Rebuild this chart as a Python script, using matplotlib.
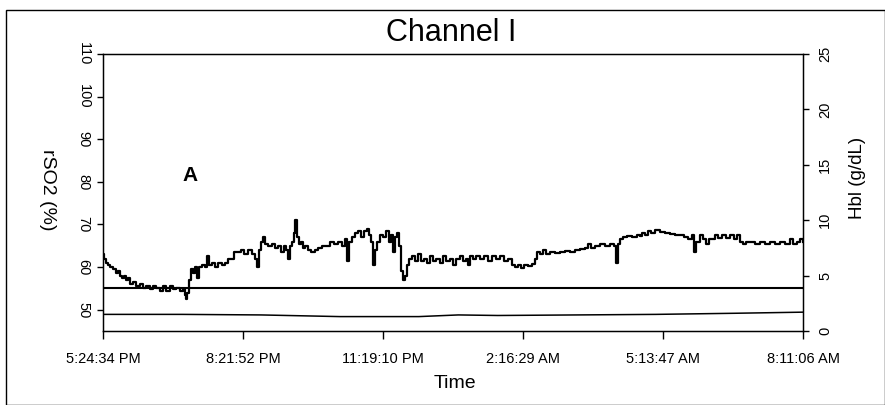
import matplotlib
matplotlib.use("Agg")
import matplotlib.pyplot as plt
from matplotlib.patches import Rectangle

plt.rcParams['font.family'] = ['Liberation Sans', 'DejaVu Sans']

# ---- data -------------------------------------------------------------
# minutes elapsed since 5:24:34 PM
rso2_minutes = [0, 1, 4, 6, 9, 13, 16, 19, 22, 24, 27, 29, 32, 34, 38, 42, 47, 51, 54, 60,
                63, 67, 72, 76, 80, 85, 89, 92, 98, 101, 104, 105, 106, 109, 111, 114, 117, 119, 122, 125,
                129, 132, 134, 138, 142, 146, 151, 155, 158, 163, 166, 171, 175, 179, 184, 189, 193, 195, 198, 200,
                203, 205, 209, 214, 218, 222, 225, 229, 232, 234, 237, 239, 242, 243, 246, 248, 251, 253, 256, 260,
                263, 268, 272, 277, 282, 287, 293, 298, 303, 306, 309, 312, 315, 319, 323, 327, 331, 334, 337, 339,
                342, 344, 347, 351, 355, 358, 362, 365, 367, 370, 372, 375, 377, 380, 382, 385, 388, 391, 395, 399,
                403, 407, 410, 414, 418, 422, 427, 431, 434, 439, 443, 447, 452, 456, 460, 462, 465, 469, 472, 477,
                483, 488, 493, 498, 503, 508, 513, 518, 522, 526, 529, 533, 538, 543, 547, 550, 553, 557, 561, 566,
                572, 579, 585, 591, 598, 604, 610, 614, 618, 623, 629, 636, 642, 647, 650, 652, 655, 659, 664, 670,
                676, 680, 683, 686, 690, 694, 699, 705, 712, 718, 724, 731, 736, 741, 746, 748, 751, 756, 760, 764,
                767, 771, 775, 779, 784, 789, 794, 799, 803, 807, 811, 814, 819, 826, 832, 838, 845, 851, 857, 864,
                870, 874, 879, 883, 886]
rso2_values = [63, 62, 61, 60.5, 60, 59.5, 58.5, 59, 58, 57.5, 58, 57, 57.5, 56, 56.5, 55.5, 56, 55, 55.5, 54.8,
               55.5, 55, 54.5, 55.5, 54.5, 55.5, 54.8, 55, 54.3, 54.8, 53.5, 52.5, 54, 57, 59.5, 58.5, 60, 57.5, 60, 60.5,
               60, 62.5, 60.5, 61, 60, 61, 60.5, 61, 62, 62, 63.5, 63.5, 64, 63, 64, 63, 62, 60, 64, 66,
               67, 65.5, 65, 65.5, 64.5, 65, 63.5, 65, 64, 62, 65, 66, 68, 71, 67, 65.5, 66, 64.5, 65, 64,
               63.5, 64, 64.5, 65, 65, 66, 65.5, 66, 65, 66.5, 61.5, 66, 67, 68, 68.5, 67, 68.5, 69, 67.5, 66,
               60.5, 64, 66, 67.5, 67, 68.5, 66, 67.5, 63.5, 67, 68, 65, 59, 57, 58, 60.5, 62, 62.5, 61.5, 63,
               61.5, 62, 61, 62.5, 61.5, 62, 61, 62.5, 61.5, 62, 60.5, 62, 62.5, 61.5, 62, 60.5, 62.5, 62, 62.5, 62,
               62.5, 61.5, 62.5, 62, 62.5, 61.5, 62, 60.5, 60, 60.5, 59.8, 60.5, 60.2, 60.8, 62, 63.5, 63, 64, 63, 63.5,
               63.2, 63.5, 63.8, 63.5, 64, 64.3, 64.5, 65.5, 64.5, 65, 65.3, 65, 65.5, 65, 61, 65.5, 66.5, 67, 67.2, 67,
               67.5, 67.2, 68, 67.5, 68.5, 68, 68.6, 68.3, 68, 67.8, 67.5, 67.5, 67, 66.5, 67.5, 63.5, 66, 67.5, 66.5, 65.5,
               66.5, 66.5, 67.5, 66.8, 67.5, 66.8, 67.5, 66.5, 67.5, 66, 65.5, 65.8, 66, 65.5, 65.8, 65.3, 65.8, 65.5, 66, 65.5,
               66.5, 65.5, 66, 66.5, 66]

hbl_minutes = [0, 100, 200, 300, 400, 450, 500, 600, 700, 800, 886]
hbl_values = [1.5, 1.5, 1.45, 1.3, 1.3, 1.45, 1.4, 1.45, 1.5, 1.6, 1.7]

baseline_rso2 = 55

tick_minutes = [0, 177.3, 354.6, 531.9, 709.2, 886.5]
tick_labels = ["5:24:34 PM", "8:21:52 PM", "11:19:10 PM", "2:16:29 AM", "5:13:47 AM", "8:11:06 AM"]
left_ticks = [50, 60, 70, 80, 90, 100, 110]
right_ticks = [0, 5, 10, 15, 20, 25]

# ---- figure -----------------------------------------------------------
W, H = 885, 405
fig = plt.figure(figsize=(W / 100, H / 100), dpi=100)
fig.patch.set_facecolor('white')
fig.patches.append(Rectangle((6 / W, 0.0), (W - 6) / W, 1 - 10 / H, transform=fig.transFigure,
                             fill=False, edgecolor='black', linewidth=1.0))

ax = fig.add_axes([103 / W, 1 - 331 / H, 700 / W, 277 / H])
ax.plot(rso2_minutes, rso2_values, color='black', linewidth=1.6, drawstyle='steps-post')
ax.axhline(baseline_rso2, color='black', linewidth=1.5)
ax.set_xlim(0, 886.5)
ax.set_ylim(45, 110)
ax.set_yticks(left_ticks)
ax.set_yticklabels([str(t) for t in left_ticks], rotation=-90, va='center', fontsize=10.5)
ax.set_xticks(tick_minutes)
ax.set_xticklabels(tick_labels, fontsize=10.5)
ax.tick_params(axis='x', direction='out', length=6, width=1, pad=9)
ax.tick_params(axis='y', direction='out', length=4, width=1, pad=5)
for s in ax.spines.values():
    s.set_linewidth(1.0)

ax2 = ax.twinx()
ax2.plot(hbl_minutes, hbl_values, color='black', linewidth=1.1)
ax2.set_ylim(0, 25)
ax2.set_yticks(right_ticks)
ax2.set_yticklabels([str(t) for t in right_ticks], rotation=90, va='center', fontsize=10.5)
ax2.tick_params(axis='y', direction='out', length=4, width=1, pad=7)

ax.text(110, 81.4, "A", fontsize=15, fontweight='bold', ha='center', va='center')

fig.text(451 / W, 1 - 33 / H, "Channel I", fontsize=22, ha='center', va='center')
fig.text(47 / W, 1 - 190 / H, "rSO2 (%)", fontsize=14, rotation=-90, ha='center', va='center')
fig.text(857 / W, 1 - 178 / H, "Hbl (g/dL)", fontsize=13.5, rotation=90, ha='center', va='center')
fig.text(455 / W, 1 - 384 / H, "Time", fontsize=14, ha='center', va='center')

fig.savefig("out.png", dpi=100)
